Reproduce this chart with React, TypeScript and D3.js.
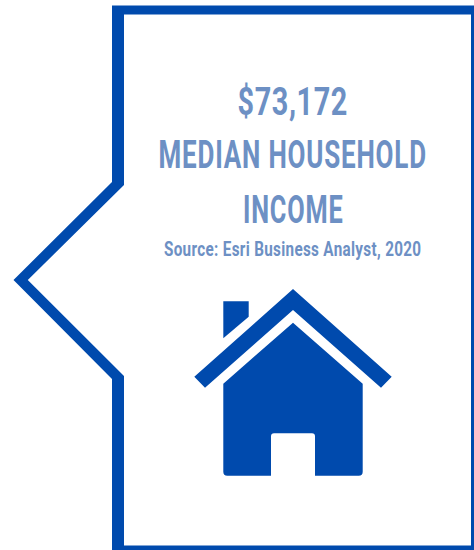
import React, { useEffect, useRef } from "react"
import * as d3 from "d3"

const width = 474
const height = 550
const blue = "#004aad"
const textBlue = "#6d90c4"

// text content of the card
const incomeLabels = ["$73,172", "MEDIAN HOUSEHOLD", "INCOME"]
const sourceLabel = "Source: Esri Business Analyst, 2020"

// [left, right, baseline, size, letter spacing]
const incomeLayout = [
  [237.5, 348, 115, 38.5, 0.8],
  [158.5, 427, 168, 38.5, 1.2],
  [243, 343.5, 222.5, 38.5, 1.2]
]
const sourceLayout = [164, 421.5, 256, 19.5, 0.4]

// callout outline, outer edge then inner edge
const outerEdge = [[112, 5.5], [474, 5.5], [474, 550], [112, 550], [112, 379], [13.5, 280], [112, 182]]
const innerEdge = [[124, 14.5], [471, 14.5], [471, 545.5], [124, 545.5], [124, 376], [27.8, 280], [124, 185]]

// house icon
const roof = [[293, 289], [391.7, 376.7], [381, 387.7], [293, 310], [205, 387.7], [194.3, 376.7]]
const chimney = [[223.3, 301.3], [248.7, 301.3], [248.7, 316.7], [223.3, 338.3]]

function App() {
  const ref = useRef<SVGSVGElement>(null)

  useEffect(() => {
    const svg = d3.select(ref.current)
    svg.selectAll("*").remove()

    const line = d3.line().curve(d3.curveLinearClosed)

    svg.append("path")
      .attr("d", line(outerEdge as any) + " " + line(innerEdge as any))
      .attr("fill", blue)
      .attr("fill-rule", "evenodd")

    svg.append("path").attr("d", line(roof as any)).attr("fill", blue)
    svg.append("path").attr("d", line(chimney as any)).attr("fill", blue)

    // body of the house with the door cut out, corners are slightly rounded
    const body = d3.path()
    body.moveTo(293, 322.7)
    body.lineTo(362.7, 383.7)
    body.arcTo(362.7, 475.7, 315, 475.7, 4)
    body.lineTo(315, 475.7)
    body.arcTo(315, 433.3, 271, 433.3, 3)
    body.arcTo(271, 433.3, 271, 475.7, 3)
    body.lineTo(271, 475.7)
    body.arcTo(223.3, 475.7, 223.3, 383.7, 4)
    body.lineTo(223.3, 383.7)
    body.closePath()
    svg.append("path").attr("d", body.toString()).attr("fill", blue)

    // no condensed font is installed, so squeeze each line to the width it has in the card
    const rows = [...incomeLabels, sourceLabel]
    const layout = [...incomeLayout, sourceLayout]
    svg.selectAll("text.label")
      .data(rows)
      .join("text")
      .attr("class", "label")
      .attr("font-family", "Roboto, sans-serif")
      .attr("font-weight", 700)
      .attr("font-size", (d, i) => layout[i][3])
      .attr("letter-spacing", (d, i) => layout[i][4])
      .attr("fill", textBlue)
      .text(d => d)
      .attr("transform", function (d, i) {
        const natural = (this as SVGTextElement).getComputedTextLength()
        const sx = (layout[i][1] - layout[i][0]) / natural
        return `translate(${layout[i][0]},${layout[i][2]}) scale(${sx},1)`
      })
  }, [])

  return (
    <svg
      ref={ref}
      width={width}
      height={height}
      style={{ position: "absolute", left: 0, top: 0, background: "#fff" }}
    />
  )
}

export default App
